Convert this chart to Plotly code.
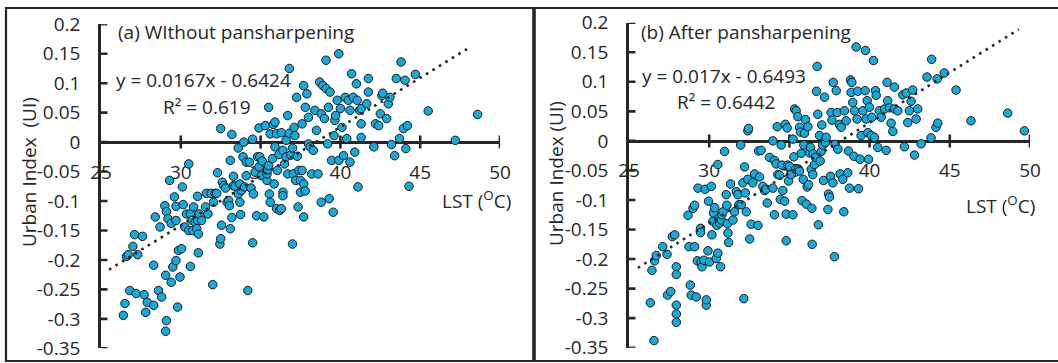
import plotly.graph_objects as go

# ---------------- data ----------------
lst_a = [26.4, 26.5, 26.6, 26.7, 26.8, 27.0, 27.1, 27.3, 27.2, 27.6, 27.8, 27.9, 27.7, 28.3, 28.3, 28.4, 28.7, 28.6,
         28.8, 29.0, 29.05, 29.1, 29.05, 29.1, 29.2, 29.3, 29.4, 29.4, 29.5, 29.6, 29.7, 29.7, 29.7, 29.8, 29.85, 29.95,
         30.1, 30.05, 30.15, 30.25, 30.35, 30.5, 30.6, 30.5, 30.6, 30.7, 30.75, 30.8, 30.9, 31.0, 31.05, 31.1, 31.1,
         31.15, 31.3, 31.05, 31.6, 31.7, 31.55, 31.9, 32.05, 32.15, 32.25, 32.0, 32.3, 32.45, 32.5, 32.55, 32.5, 32.6,
         32.7, 32.8, 32.9, 33.0, 33.05, 33.1, 33.1, 33.2, 33.2, 33.3, 33.3, 33.4, 33.6, 33.6, 33.7, 33.7, 33.75, 33.8,
         33.9, 33.95, 34.0, 34.1, 34.1, 34.2, 34.3, 34.4, 34.5, 34.5, 34.55, 34.65, 34.75, 34.8, 34.9, 34.9, 34.95,
         35.05, 35.1, 35.2, 35.3, 35.4, 35.4, 35.45, 35.5, 35.5, 35.55, 35.6, 35.6, 35.75, 35.8, 35.85, 35.9, 35.9,
         36.0, 36.0, 36.05, 36.15, 36.2, 36.3, 36.3, 36.4, 36.4, 36.4, 36.5, 36.6, 36.6, 36.7, 36.7, 36.8, 36.8, 36.9,
         37.0, 37.0, 37.05, 37.1, 37.15, 37.2, 37.25, 37.3, 37.35, 37.4, 37.5, 37.5, 37.6, 37.6, 37.7, 37.7, 37.7,
         37.8, 37.8, 37.9, 38.0, 38.0, 38.1, 38.2, 38.3, 38.4, 38.5, 38.6, 38.7, 38.8, 38.8, 38.9, 39.0, 39.1, 39.1,
         39.2, 39.25, 39.3, 39.35, 39.45, 39.55, 39.6, 39.65, 39.7, 39.8, 39.9, 39.9, 40.0, 40.1, 40.2, 40.3, 40.4,
         40.5, 40.6, 40.6, 40.7, 40.8, 40.9, 41.0, 41.05, 41.1, 41.2, 41.3, 41.3, 41.3, 41.75, 41.75, 41.65, 42.1,
         42.2, 42.4, 42.5, 42.6, 42.65, 42.9, 43.0, 43.1, 43.2, 43.4, 43.5, 43.7, 43.8, 43.95, 44.05, 44.1, 44.2, 44.3,
         44.7, 45.5, 47.2, 48.6]
ui_a = [-0.294, -0.274, -0.194, -0.191, -0.252, -0.177, -0.157, -0.191, -0.257, -0.160, -0.289, -0.272, -0.259,
        -0.277, -0.209, -0.127, -0.144, -0.252, -0.263, -0.108, -0.226, -0.303, -0.321, -0.118, -0.130, -0.065,
        -0.238, -0.138, -0.212, -0.093, -0.109, -0.133, -0.201, -0.280, -0.184, -0.229, -0.076, -0.181, -0.106,
        -0.144, -0.122, -0.037, -0.122, -0.150, -0.211, -0.133, -0.150, -0.110, -0.136, -0.147, -0.133, -0.156,
        -0.188, -0.122, -0.133, -0.092, -0.087, -0.122, -0.110, -0.087, -0.102, -0.087, -0.087, -0.242, -0.052,
        -0.173, -0.164, -0.141, 0.023, -0.068, -0.074, -0.078, -0.102, -0.099, -0.108, -0.147, -0.031, 0.013,
        -0.128, -0.058, -0.074, -0.075, -0.010, -0.088, -0.102, -0.071, -0.123, -0.082, -0.025, 0.000, -0.076,
        -0.034, -0.057, -0.252, -0.034, -0.078, 0.005, -0.171, -0.088, -0.051, -0.125, -0.025, -0.042, 0.024,
        -0.025, -0.057, -0.032, -0.127, 0.028, -0.065, -0.054, -0.047, -0.040, 0.059, -0.088, -0.102, 0.014,
        -0.028, 0.030, -0.071, 0.034, -0.008, 0.014, -0.113, -0.048, -0.021, -0.116, -0.113, 0.016, -0.085, -0.091,
        -0.014, -0.037, -0.025, 0.003, 0.045, -0.054, 0.125, 0.015, -0.022, -0.010, -0.173, -0.054, 0.025, 0.011,
        -0.065, 0.076, -0.024, -0.110, -0.048, -0.065, -0.085, -0.048, 0.031, -0.071, 0.096, -0.127, -0.083, 0.059,
        0.082, 0.042, -0.003, -0.008, -0.054, -0.014, 0.054, 0.020, -0.054, 0.102, 0.048, -0.102, 0.096, 0.040,
        0.091, 0.139, -0.003, 0.059, -0.096, 0.085, -0.031, -0.119, 0.011, 0.037, 0.045, 0.071, -0.031, 0.150,
        0.057, 0.025, -0.023, 0.076, 0.006, 0.071, -0.034, 0.054, 0.116, 0.076, -0.017, 0.099, 0.071, -0.076,
        0.054, 0.031, 0.008, 0.057, 0.085, 0.108, 0.065, -0.008, 0.031, 0.028, 0.048, 0.079, 0.083, 0.040, 0.065,
        0.076, -0.004, -0.023, 0.108, 0.006, 0.136, 0.023, 0.105, -0.011, 0.028, -0.075, 0.115, 0.053, 0.003, 0.047]

lst_b = [26.33, 26.56, 26.43, 26.6, 26.7, 27.1, 27.37, 27.4, 27.6, 27.7, 27.85, 27.95, 27.95, 27.95, 27.95, 27.95,
         28.68, 28.74, 28.82, 28.88, 28.99, 29.09, 29.09, 29.19, 29.26, 29.3, 29.46, 29.46, 29.5, 29.55, 29.67, 29.75,
         29.82, 29.82, 29.92, 29.96, 30.02, 30.13, 30.17, 30.23, 30.27, 30.34, 30.44, 30.48, 30.54, 30.54, 30.6,
         30.65, 30.71, 30.75, 30.79, 30.86, 30.96, 31.06, 31.1, 31.13, 31.17, 31.21, 31.33, 31.48, 31.58, 31.69,
         31.79, 31.85, 31.96, 32.0, 32.1, 32.16, 32.2, 32.25, 32.31, 32.41, 32.41, 32.45, 32.52, 32.62, 32.72, 32.83,
         33.04, 33.08, 33.14, 33.24, 33.35, 33.45, 33.55, 33.62, 33.76, 33.97, 33.97, 34.07, 34.07, 34.18, 34.24,
         34.28, 34.39, 34.43, 34.49, 34.53, 34.59, 34.7, 34.74, 34.8, 34.8, 34.86, 34.9, 34.95, 35.0, 35.11, 35.22,
         35.22, 35.28, 35.32, 35.38, 35.42, 35.53, 35.57, 35.63, 35.63, 35.69, 35.74, 35.78, 35.86, 35.9, 35.94, 36.0,
         36.05, 36.11, 36.15, 36.19, 36.25, 36.32, 36.36, 36.4, 36.42, 36.46, 36.48, 36.57, 36.63, 36.69, 36.73,
         36.77, 36.81, 36.88, 36.92, 36.98, 37.02, 37.08, 37.13, 37.19, 37.25, 37.29, 37.4, 37.44, 37.5, 37.56, 37.6,
         37.65, 37.71, 37.73, 37.81, 37.85, 37.92, 37.98, 38.02, 38.12, 38.16, 38.23, 38.33, 38.39, 38.43, 38.54,
         38.64, 38.68, 38.75, 38.81, 38.85, 38.89, 38.95, 39.02, 39.06, 39.16, 39.22, 39.26, 39.31, 39.41, 39.47,
         39.58, 39.72, 39.74, 39.78, 39.85, 39.89, 39.93, 39.99, 40.1, 40.14, 40.24, 40.3, 40.37, 40.41, 40.51, 40.61,
         40.72, 40.93, 41.03, 41.09, 41.13, 41.24, 41.34, 41.45, 41.55, 41.55, 41.76, 42.07, 42.17, 42.28, 42.38,
         42.48, 42.59, 42.69, 42.8, 42.9, 43.0, 43.21, 43.58, 43.83, 43.87, 44.14, 44.21, 44.25, 44.66, 45.39, 46.32,
         48.61, 49.65]
ui_b = [-0.274, -0.338, -0.219, -0.203, -0.194, -0.179, -0.192, -0.261, -0.255, -0.162, -0.159, -0.213, -0.226,
        -0.278, -0.293, -0.307, -0.126, -0.179, -0.244, -0.261, -0.114, -0.109, -0.179, -0.264, -0.203, -0.080,
        -0.148, -0.155, -0.205, -0.213, -0.202, -0.082, -0.278, -0.269, -0.186, -0.102, -0.205, -0.077, -0.159,
        -0.136, -0.122, -0.113, -0.199, -0.143, -0.190, -0.040, -0.131, -0.139, -0.213, -0.134, -0.125, -0.120,
        -0.018, -0.091, -0.109, -0.140, -0.156, -0.172, -0.073, -0.134, -0.120, -0.086, -0.091, -0.108, -0.007,
        -0.108, -0.071, -0.267, -0.044, -0.088, -0.120, -0.065, 0.017, 0.021, -0.166, -0.141, -0.071, -0.056,
        -0.143, -0.017, -0.061, -0.016, -0.077, -0.084, -0.082, -0.105, -0.028, 0.000, -0.080, -0.033, -0.125,
        -0.039, 0.024, -0.057, -0.058, -0.099, -0.007, -0.041, -0.084, -0.102, 0.028, -0.169, -0.124, 0.022, -0.041,
        -0.068, -0.043, -0.057, -0.125, 0.003, -0.027, 0.054, -0.048, 0.051, 0.041, -0.048, -0.051, 0.023, 0.015,
        -0.021, -0.101, -0.065, -0.007, 0.013, 0.036, -0.107, -0.078, 0.024, -0.074, -0.020, -0.011, -0.048, -0.114,
        -0.175, -0.057, -0.022, -0.040, -0.028, 0.084, 0.126, 0.045, -0.142, 0.009, -0.034, -0.018, 0.027, -0.007,
        -0.067, 0.074, -0.003, 0.006, -0.116, -0.090, -0.095, -0.060, 0.048, 0.035, -0.071, 0.099, -0.196, -0.006,
        0.085, 0.048, -0.014, 0.028, -0.056, 0.023, -0.065, -0.120, 0.051, 0.034, -0.054, -0.017, -0.080, 0.103,
        0.082, 0.099, 0.065, -0.026, 0.051, 0.159, 0.037, 0.084, -0.081, -0.031, 0.009, 0.051, 0.085, 0.153, 0.037,
        0.068, 0.014, -0.031, 0.057, 0.009, 0.040, 0.136, 0.006, 0.085, 0.077, -0.011, 0.051, 0.040, 0.054, -0.016,
        0.099, 0.068, 0.056, 0.030, 0.016, 0.091, 0.054, 0.051, 0.078, -0.010, 0.081, 0.031, 0.051, 0.067, 0.086,
        -0.024, 0.037, 0.054, -0.005, 0.108, 0.005, 0.138, 0.023, 0.105, 0.030, 0.115, 0.086, 0.034, 0.047, 0.017]

trend_a = {"slope": 0.0167, "intercept": -0.6424, "x": [25.5, 48.1]}
trend_b = {"slope": 0.017, "intercept": -0.6493, "x": [25.55, 49.3]}

x_ticks = [25, 30, 35, 40, 45, 50]
x_tick_labels = ["25", "30", "35", "40", "45", "50"]
y_ticks = [-0.35, -0.3, -0.25, -0.2, -0.15, -0.1, -0.05, 0, 0.05, 0.1, 0.15, 0.2]
y_tick_labels = ["-0.35", "-0.3", "-0.25", "-0.2", "-0.15", "-0.1", "-0.05", "0", "0.05", "0.1", "0.15", "0.2"]

# ---------------- style ----------------
W, H = 1058, 363
FONT = "Open Sans"
FS = 19
INK = "#262626"
DOT = "#16AADB"
X_RANGE = [25, 50]
Y_RANGE = [-0.35, 0.2]

fig = go.Figure()

def px_x(p):
    return p / W

def px_y(p):
    return 1 - p / H

panels = [
    dict(xa="x", ya="y", xd=[px_x(101), px_x(500)], yd=[px_y(348.3), px_y(24.3)],
         lst=lst_a, ui=ui_a, trend=trend_a),
    dict(xa="x2", ya="y2", xd=[px_x(629), px_x(1030)], yd=[px_y(347.7), px_y(22.7)],
         lst=lst_b, ui=ui_b, trend=trend_b),
]

shapes = []
for i, p in enumerate(panels):
    fig.add_trace(go.Scatter(
        x=p["lst"], y=p["ui"], mode="markers", xaxis=p["xa"], yaxis=p["ya"],
        marker=dict(size=8.5, color=DOT, line=dict(color="#1a1a1a", width=1)),
        showlegend=False, hoverinfo="skip"))
    t = p["trend"]
    fig.add_trace(go.Scatter(
        x=t["x"], y=[t["slope"] * v + t["intercept"] for v in t["x"]],
        mode="lines", xaxis=p["xa"], yaxis=p["ya"],
        line=dict(color=INK, width=2.6, dash="2.6px,5px"),
        showlegend=False, hoverinfo="skip"))

    sfx = "" if i == 0 else "2"
    pos = p["yd"][0] + (0 - Y_RANGE[0]) / (Y_RANGE[1] - Y_RANGE[0]) * (p["yd"][1] - p["yd"][0])
    fig.update_layout(**{
        f"xaxis{sfx}": dict(domain=p["xd"], range=X_RANGE, anchor="free", position=pos,
                            tickvals=x_ticks, ticktext=x_tick_labels, ticks="", automargin=False,
                            showline=True, linecolor=INK, linewidth=2.6, showgrid=False,
                            zeroline=False, ticklabelstandoff=12, layer="below traces",
                            tickfont=dict(family=FONT, size=FS, color=INK)),
        f"yaxis{sfx}": dict(domain=p["yd"], range=Y_RANGE, anchor=p["xa"], automargin=False,
                            tickvals=y_ticks, ticktext=y_tick_labels, ticks="",
                            showline=True, linecolor=INK, linewidth=2.6, showgrid=False,
                            zeroline=False, ticklabelstandoff=14, layer="below traces",
                            tickfont=dict(family=FONT, size=FS, color=INK)),
    })
    # cross tick marks
    for v in x_ticks[1:]:
        shapes.append(dict(type="line", xref=p["xa"], yref=p["ya"], x0=v, x1=v,
                           ysizemode="pixel", yanchor=0, y0=-6.5, y1=6.5,
                           line=dict(color=INK, width=2.6), layer="below"))
    for v in y_ticks:
        shapes.append(dict(type="line", yref=p["ya"], xref=p["xa"], y0=v, y1=v,
                           xsizemode="pixel", xanchor=X_RANGE[0], x0=-6.5, x1=6.5,
                           line=dict(color=INK, width=2.6), layer="below"))

# panel frames
shapes.append(dict(type="rect", xref="paper", yref="paper", x0=px_x(6), x1=px_x(534),
                   y0=px_y(361), y1=px_y(8), line=dict(color=INK, width=2.2)))
shapes.append(dict(type="rect", xref="paper", yref="paper", x0=px_x(534), x1=px_x(1062),
                   y0=px_y(361), y1=px_y(8), line=dict(color=INK, width=2.2)))
shapes.append(dict(type="line", xref="paper", yref="paper", x0=px_x(534), x1=px_x(534),
                   y0=px_y(361), y1=px_y(8), line=dict(color=INK, width=3.5)))

tf = dict(family=FONT, size=FS, color=INK)
annotations = [
    dict(text="(a) WIthout pansharpening", x=px_x(116), y=px_y(32), xanchor="left", yanchor="middle"),
    dict(text="y = 0.0167x - 0.6424", x=px_x(114), y=px_y(80), xanchor="left", yanchor="middle"),
    dict(text="R² = 0.619", x=px_x(161), y=px_y(107), xanchor="left", yanchor="middle"),
    dict(text="LST (<sup>O</sup>C)", x=px_x(513), y=px_y(200), xanchor="right", yanchor="middle"),
    dict(text="Urban Index  (UI)", x=px_x(29), y=px_y(172), xanchor="center", yanchor="middle", textangle=-90),
    dict(text="(b) After pansharpening", x=px_x(639), y=px_y(32), xanchor="left", yanchor="middle"),
    dict(text="y = 0.017x - 0.6493", x=px_x(640), y=px_y(76), xanchor="left", yanchor="middle"),
    dict(text="R² = 0.6442", x=px_x(675), y=px_y(102), xanchor="left", yanchor="middle"),
    dict(text="LST (<sup>O</sup>C)", x=px_x(1037), y=px_y(205), xanchor="right", yanchor="middle"),
    dict(text="Urban Index (UI)", x=px_x(556), y=px_y(174), xanchor="center", yanchor="middle", textangle=-90),
]
for a in annotations:
    a.update(xref="paper", yref="paper", showarrow=False, font=tf)

fig.update_layout(width=W, height=H, margin=dict(l=0, r=0, t=0, b=0, autoexpand=False),
                  paper_bgcolor="white", plot_bgcolor="rgba(0,0,0,0)",
                  shapes=shapes, annotations=annotations, showlegend=False)

fig.write_html(
    "out.html",
    config={"displayModeBar": False},
    post_script=("document.documentElement.style.margin='0px';"
                 "document.documentElement.style.overflow='hidden';"
                 "document.body.style.margin='0px';"
                 "document.body.style.padding='0px';"
                 "document.body.style.overflow='hidden';"),
)
